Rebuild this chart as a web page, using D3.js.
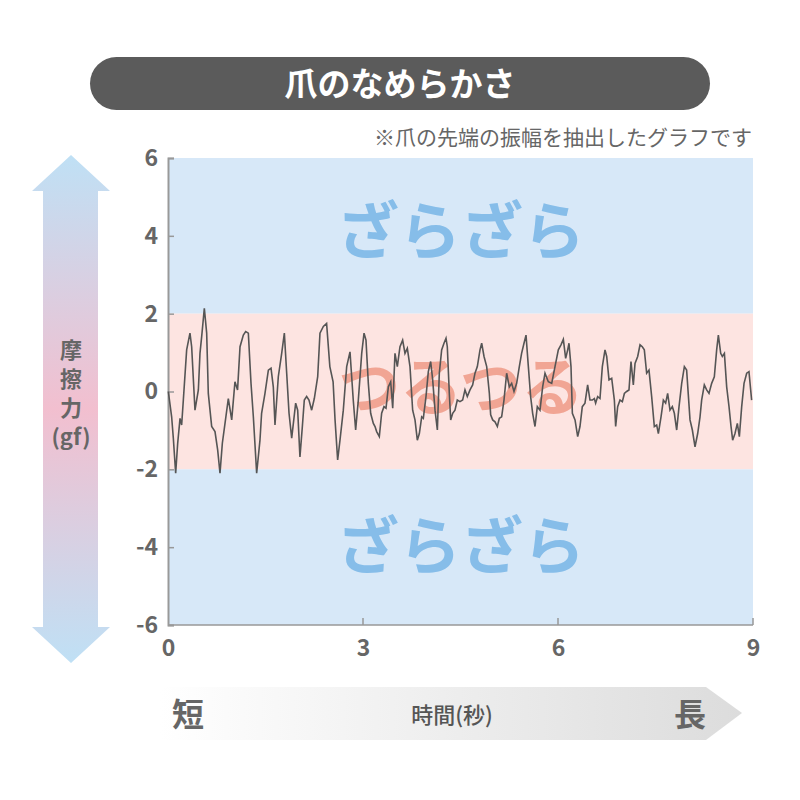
<!DOCTYPE html>
<html><head><meta charset="utf-8">
<script src="https://cdn.jsdelivr.net/npm/d3@7"></script>
<style>body{margin:0;background:#fff}text{font-family:"Noto Sans CJK JP","Noto Sans",sans-serif}</style>
</head><body><svg id="c" width="800" height="800"></svg>
<script>
const xTicks=[0,3,6,9];
const yTicks=[6,4,2,0,-2,-4,-6];
const bands=[{y0:6,y1:2,c:"#d7e8f8"},{y0:2,y1:-2,c:"#fde4e1"},{y0:-2,y1:-6,c:"#d7e8f8"}];
const zoneLabels=[{t:"ざらざら",v:4.1,c:"#86bde9"},{t:"つるつる",v:0.1,c:"#f1a594"},{t:"ざらざら",v:-4,c:"#86bde9"}];
const sigT=[0.005,0.056,0.082,0.118,0.149,0.185,0.21,0.236,0.287,0.338,0.364,0.415,0.467,0.492,0.518,0.559,0.595,0.62,0.672,0.723,0.764,0.8,0.836,0.877,0.928,0.98,1.03,1.07,1.108,1.159,1.195,1.236,1.277,1.313,1.364,1.415,1.44,1.492,1.544,1.585,1.62,1.646,1.697,1.749,1.79,1.826,1.862,1.903,1.964,1.995,2.03,2.067,2.097,2.133,2.169,2.21,2.251,2.303,2.338,2.39,2.44,2.49,2.54,2.57,2.61,2.646,2.697,2.749,2.8,2.85,2.887,2.928,2.98,3.016,3.046,3.082,3.118,3.159,3.185,3.21,3.251,3.287,3.323,3.354,3.39,3.426,3.457,3.492,3.528,3.569,3.61,3.646,3.682,3.723,3.764,3.8,3.836,3.867,3.903,3.928,3.969,4.005,4.041,4.072,4.108,4.144,4.174,4.21,4.246,4.277,4.297,4.328,4.349,4.38,4.415,4.451,4.492,4.533,4.569,4.605,4.646,4.687,4.723,4.759,4.8,4.826,4.862,4.903,4.944,4.964,4.995,5.031,5.067,5.097,5.133,5.169,5.21,5.251,5.287,5.323,5.364,5.405,5.44,5.477,5.508,5.544,5.579,5.61,5.646,5.682,5.723,5.764,5.8,5.851,5.903,5.954,6.005,6.046,6.082,6.118,6.149,6.169,6.2,6.221,6.262,6.303,6.338,6.374,6.415,6.456,6.492,6.528,6.559,6.579,6.61,6.646,6.682,6.723,6.749,6.785,6.826,6.867,6.887,6.918,6.954,6.99,7.021,7.056,7.092,7.123,7.159,7.185,7.226,7.262,7.297,7.328,7.364,7.4,7.441,7.482,7.518,7.544,7.585,7.621,7.656,7.687,7.723,7.759,7.79,7.826,7.862,7.903,7.944,7.979,8.031,8.067,8.108,8.149,8.185,8.21,8.251,8.287,8.323,8.364,8.405,8.441,8.467,8.503,8.528,8.56,8.595,8.631,8.662,8.687,8.723,8.759,8.79,8.826,8.862,8.903,8.938,8.979];
const sigV=[0,-0.65,-1.2,-2.1,-1.33,-0.69,-0.86,-0.22,1.07,1.5,1.15,-0.48,0.04,0.98,1.41,2.14,1.5,-0.05,-0.9,-1.03,-1.5,-2.1,-1.33,-0.82,-0.18,-0.73,0.25,0.04,1.15,1.45,1.54,1.5,0.21,-0.65,-2.1,-1.25,-0.56,-0.05,0.55,0.6,0.12,-0.86,0.38,0.98,1.5,0.47,-0.56,-1.2,-0.3,-0.48,-1.68,-0.9,-0.22,-0.13,-0.22,-0.48,-0.18,0.38,1.5,1.67,1.75,0.64,0.25,-0.73,-1.76,-1.25,-0.48,0.64,1.02,-0.22,-0.99,-0.22,0.98,1.5,1.32,0.21,-0.56,-0.82,-0.9,-1.03,-1.16,-0.56,-0.39,-0.43,0.12,0.25,-0.43,0.98,0.64,1.15,1.32,0.98,1.11,0.64,-0.48,-0.73,-1.25,-1.08,-0.65,-0.69,-0.13,0.51,0.77,0.3,-0.48,-0.99,0.47,1.07,1.24,1.37,1.15,-0.05,-0.73,-0.56,-0.48,-0.22,-0.26,-0.22,0.04,-0.13,0.04,0.17,0.47,0.64,1.07,1.24,0.9,0.64,-0.05,-0.6,-0.73,-0.78,-0.9,-0.69,-0.65,-0.22,0.47,0.12,0.21,0,0.21,0.64,0.98,1.24,1.45,0.64,-0.13,-0.56,-0.9,-0.39,-0.48,0.12,0.47,0.25,0.21,0.64,1.07,1.2,1.34,0.85,1.07,1.24,0.64,-0.56,-0.73,-1.16,-0.9,-0.39,-0.3,0.17,-0.22,-0.22,-0.18,-0.3,-0.13,-0.18,0.64,1.07,0.9,0.3,0.34,-0.22,-0.9,-0.39,-0.22,-0.26,-0.05,0,0.04,0.77,0.17,0.72,0.9,1.2,1.15,1.07,0.47,0.55,-0.13,-0.9,-0.86,-1.08,-0.65,-0.22,-0.3,-0.05,-0.48,-0.39,-0.56,-0.99,-0.39,0.21,0.64,0.55,-0.73,-0.99,-1.42,-1.08,-0.65,-0.22,0.17,0.04,-0.05,0.21,0.38,1.07,1.45,0.98,0.9,0.98,0.12,-0.39,-0.9,-1.25,-1.08,-0.82,-1.16,-0.39,0.21,0.47,0.51,-0.22];

const svg=d3.select("#c");
const x=d3.scaleLinear().domain([0,9]).range([168,753]);
const y=d3.scaleLinear().domain([-6,6]).range([625,158]);
const defs=svg.append("defs");
const gv=defs.append("linearGradient").attr("id","gv").attr("x1",0).attr("x2",0).attr("y1",0).attr("y2",1);
[[0,"#bfe0f5"],[0.5,"#f2bfcf"],[1,"#bfe0f5"]].forEach(s=>gv.append("stop").attr("offset",s[0]).attr("stop-color",s[1]));
const gh=defs.append("linearGradient").attr("id","gh");
[[0,"#ffffff"],[1,"#dcdcdc"]].forEach(s=>gh.append("stop").attr("offset",s[0]).attr("stop-color",s[1]));

svg.append("rect").attr("x",90).attr("y",57).attr("width",620).attr("height",53).attr("rx",26.5).attr("fill","#5b5b5b");
svg.append("text").attr("x",400).attr("y",96).attr("text-anchor","middle").attr("fill","#fff").attr("font-size",33).attr("font-weight",700).text("爪のなめらかさ");
svg.append("text").attr("x",752).attr("y",145).attr("text-anchor","end").attr("fill","#666").attr("font-size",21).text("※爪の先端の振幅を抽出したグラフです");

svg.selectAll(".band").data(bands).join("rect").attr("x",x(0)).attr("width",x(9)-x(0))
 .attr("y",d=>y(d.y0)).attr("height",d=>y(d.y1)-y(d.y0)).attr("fill",d=>d.c);
svg.selectAll(".zl").data(zoneLabels).join("text").attr("x",461).attr("y",d=>y(d.v)).attr("dy","0.36em")
 .attr("text-anchor","middle").attr("font-size",62).attr("font-weight",700).attr("fill",d=>d.c).text(d=>d.t);

svg.selectAll(".vg").data(xTicks.slice(1)).join("line").attr("x1",d=>x(d)).attr("x2",d=>x(d)).attr("y1",y(-6)-7).attr("y2",y(-6)).attr("stroke","#999").attr("stroke-width",1.5);
svg.append("line").attr("x1",x(0)).attr("x2",x(9)).attr("y1",y(-6)).attr("y2",y(-6)).attr("stroke","#999").attr("stroke-width",1.5);

const ya=svg.append("g").attr("transform",`translate(${x(0)},0)`).call(d3.axisRight(y).tickValues(yTicks).tickSize(6).tickFormat(d=>String(d)));
ya.select(".domain").attr("stroke","#999").attr("stroke-width",2);
ya.selectAll(".tick line").attr("stroke","#999").attr("stroke-width",1.5);
ya.selectAll(".tick text").attr("x",-10).attr("text-anchor","end").attr("fill","#666").attr("font-size",23).attr("font-weight",600).attr("font-family","Noto Sans");
const xa=svg.append("g").attr("transform",`translate(0,${y(-6)})`).call(d3.axisBottom(x).tickValues(xTicks).tickSize(0));
xa.select(".domain").remove();
xa.selectAll(".tick text").attr("y",15).attr("fill","#666").attr("font-size",23).attr("font-weight",600).attr("font-family","Noto Sans");

svg.append("path").datum(sigT.map((t,i)=>[t,sigV[i]])).attr("fill","none").attr("stroke","#555").attr("stroke-width",1.6)
 .attr("d",d3.line().x(d=>x(d[0])).y(d=>y(d[1])));

svg.append("path").attr("d","M71,155 L110,191 L98,191 L98,627 L110,627 L71,663 L32,627 L43,627 L43,191 L32,191 Z").attr("fill","url(#gv)");
const ly=["摩","擦","力","(gf)"];
svg.selectAll(".ly").data(ly).join("text").attr("x",71).attr("y",(d,i)=>358+i*29).attr("text-anchor","middle")
 .attr("font-size",22).attr("font-weight",700).attr("fill","#666").text(d=>d);

svg.append("path").attr("d","M160,687 L706,687 L742,713 L706,740 L160,740 Z").attr("fill","url(#gh)");
svg.append("text").attr("x",188).attr("y",726).attr("text-anchor","middle").attr("font-size",32).attr("font-weight",700).attr("fill","#666").text("短");
svg.append("text").attr("x",690).attr("y",726).attr("text-anchor","middle").attr("font-size",32).attr("font-weight",700).attr("fill","#666").text("長");
svg.append("text").attr("x",452).attr("y",723).attr("text-anchor","middle").attr("font-size",22).attr("font-weight",500).attr("fill","#555").text("時間(秒)");
</script></body></html>
